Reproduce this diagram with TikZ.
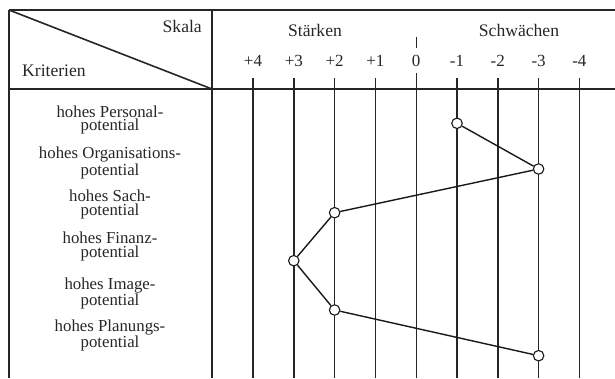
\documentclass[tikz,border=0pt]{standalone}
\usepackage{fontspec}
\setmainfont{Liberation Serif}
\begin{document}
\begin{tikzpicture}[x=1pt,y=-1pt,
  rule/.style={line width=1.6pt, draw=black!85},
  grid/.style={line width=1.4pt, draw=black!85},
  conn/.style={line width=1.4pt, draw=black!90},
  pt/.style={circle, draw=black!90, fill=white, line width=1.1pt, minimum size=10.5pt, inner sep=0pt},
  hdr/.style={font=\fontsize{17.6}{20}\selectfont, inner sep=0pt, text=black!85},
  num/.style={font=\fontsize{17}{20}\selectfont, inner sep=0pt, anchor=base, text=black!85},
  crit/.style={font=\fontsize{16.8}{13.6}\selectfont, align=center, inner sep=0pt, text=black!85}]
\useasboundingbox (0,0) rectangle (615,378);
% frame
\coordinate (tl) at (9,10);
\coordinate (tr) at (615,10);
\coordinate (hl) at (9,89);
\coordinate (hr) at (615,89);
\coordinate (bl) at (9,378);
\coordinate (dt) at (212,10);
\coordinate (dm) at (212,89);
\coordinate (db) at (212,378);
\draw[rule] (tl) -- (tr);
\draw[rule] (hl) -- (hr);
\draw[rule] (tl) -- (bl);
\draw[rule] (dt) -- (db);
\draw[rule] (tl) -- (dm);
% header texts
\node[hdr, anchor=base east] (skala) at (202,32) {Skala};
\node[hdr, anchor=base west] (krit) at (22,76) {Kriterien};
\node[hdr, anchor=base] (staerken) at (315,36.5) {Stärken};
\node[hdr, anchor=base] (schwaechen) at (519,36.5) {Schwächen};
% scale lines
\foreach \lab/\x [count=\i] in {+4/253,+3/293.8,+2/334.6,+1/375.4,0/416.2,-1/457,-2/497.8,-3/538.6,-4/579.4}{
  \node[num] (n\i) at (\x,66.5) {\lab};
  \coordinate (t\i) at (\x,78);
  \coordinate (b\i) at (\x,378);
}
\foreach \i in {1,2,3,4,6,7,8,9}{ \draw[grid] (t\i) -- (b\i); }
\coordinate (z0) at (416.2,37);
\coordinate (z1) at (416.2,48);
\coordinate (z2) at (416.2,73);
\draw[grid] (z0) -- (z1);
\draw[grid] (z2) -- (b5);
% criteria
\node[crit] (c1) at (110,120) {hohes Personal-\\potential};
\node[crit] (c2) at (110,163) {hohes Organisations-\\potential};
\node[crit] (c3) at (110,204.5) {hohes Sach-\\potential};
\node[crit] (c4) at (110,246.7) {hohes Finanz-\\potential};
\node[crit] (c5) at (110,293.3) {hohes Image-\\potential};
\node[crit] (c6) at (110,335.8) {hohes Planungs-\\potential};
% profile
\node[pt] (p1) at (457,123.3) {};
\node[pt] (p2) at (538.6,169) {};
\node[pt] (p3) at (334.6,212.7) {};
\node[pt] (p4) at (293.8,260.7) {};
\node[pt] (p5) at (334.6,310) {};
\node[pt] (p6) at (538.6,355.7) {};
\draw[conn] (p1) -- (p2);
\draw[conn] (p2) -- (p3);
\draw[conn] (p3) -- (p4);
\draw[conn] (p4) -- (p5);
\draw[conn] (p5) -- (p6);
\end{tikzpicture}
\end{document}
